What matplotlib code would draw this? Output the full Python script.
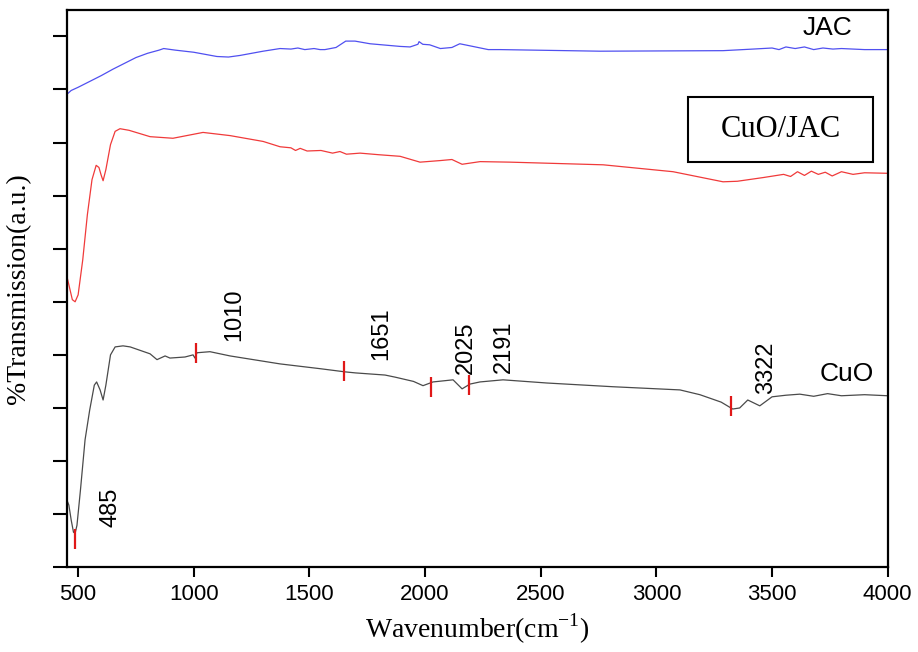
import matplotlib.pyplot as plt
from matplotlib.patches import Rectangle

plt.rcParams['font.family'] = 'Liberation Sans'

# ---- data (arbitrary offset units) ----
jac_x = [452, 470, 500, 550, 600, 650, 700, 750, 800, 850, 870, 920, 1000, 1050,
         1100, 1150, 1200, 1300, 1373, 1420, 1450, 1480, 1520, 1546, 1567, 1615,
         1657, 1697, 1762, 1892, 1935, 1969, 1974, 1990, 2020, 2066, 2116, 2150,
         2195, 2273, 2325, 2757, 3288, 3418, 3500, 3530, 3560, 3600, 3640, 3680,
         3720, 3763, 3800, 3900, 4000]
jac_y = [8.91, 8.98, 9.04, 9.15, 9.26, 9.38, 9.49, 9.60, 9.68, 9.74, 9.77, 9.74, 9.70, 9.66,
         9.62, 9.61, 9.64, 9.72, 9.77, 9.76, 9.78, 9.75, 9.77, 9.75, 9.75, 9.79,
         9.91, 9.91, 9.86, 9.81, 9.80, 9.85, 9.90, 9.85, 9.84, 9.77, 9.79, 9.86,
         9.82, 9.75, 9.75, 9.72, 9.73, 9.76, 9.78, 9.75, 9.80, 9.77, 9.80, 9.75,
         9.78, 9.76, 9.77, 9.75, 9.75]

cuojac_x = [452, 460, 475, 487, 500, 520, 540, 560, 578, 590, 600, 608, 620, 640,
            660, 681, 720, 811, 910, 1040, 1157, 1300, 1373, 1420, 1440, 1460, 1490,
            1550, 1600, 1632, 1660, 1719, 1800, 1892, 1978, 2066, 2116, 2160, 2238,
            2368, 2770, 3072, 3288, 3350, 3462, 3550, 3580, 3610, 3640, 3670, 3700,
            3730, 3760, 3800, 3850, 3900, 4000]
cuojac_y = [5.47, 5.32, 5.04, 5.00, 5.13, 5.79, 6.64, 7.30, 7.57, 7.53, 7.38, 7.28, 7.49, 7.96,
            8.21, 8.26, 8.23, 8.11, 8.08, 8.19, 8.13, 8.02, 7.92, 7.90, 7.85, 7.89, 7.84,
            7.85, 7.80, 7.83, 7.78, 7.80, 7.77, 7.74, 7.63, 7.66, 7.68, 7.59, 7.64,
            7.63, 7.58, 7.45, 7.26, 7.27, 7.34, 7.40, 7.36, 7.45, 7.38, 7.46, 7.40,
            7.44, 7.37, 7.45, 7.40, 7.43, 7.42]

cuo_x = [452, 460, 470, 480, 487, 495, 510, 530, 550, 570, 580, 595, 608, 620,
         640, 660, 694, 725, 811, 841, 876, 897, 962, 997, 1005, 1014, 1070, 1157,
         1373, 1546, 1600, 1654, 1700, 1827, 1871, 1950, 1991, 2034, 2121, 2160,
         2194, 2237, 2337, 2527, 2812, 3102, 3188, 3280, 3330, 3360, 3395, 3447,
         3500, 3560, 3620, 3680, 3740, 3800, 3900, 4000]
cuo_y = [1.26, 1.17, 0.89, 0.66, 0.64, 0.79, 1.45, 2.40, 2.96, 3.43, 3.49, 3.34, 3.15, 3.43,
         4.00, 4.15, 4.17, 4.15, 4.02, 3.91, 3.98, 3.94, 3.96, 4.00, 3.94, 4.04, 4.06, 3.98,
         3.83, 3.74, 3.71, 3.68, 3.66, 3.62, 3.58, 3.50, 3.42, 3.49, 3.53, 3.36,
         3.45, 3.49, 3.53, 3.47, 3.40, 3.34, 3.25, 3.11, 2.98, 3.00, 3.15, 3.04,
         3.21, 3.24, 3.26, 3.22, 3.27, 3.23, 3.25, 3.23]

peak_pos = [485, 1010, 1651, 2025, 2191, 3322]
peak_y = [0.53, 4.04, 3.69, 3.40, 3.44, 3.03]
peak_labels = ['485', '1010', '1651', '2025', '2191', '3322']
label_x = [638, 1174, 1809, 2177, 2341, 3473]
label_y = [1.13, 4.75, 4.40, 4.13, 4.15, 3.75]

fig = plt.figure(figsize=(9.18, 6.52), dpi=100)
ax = fig.add_axes([0.073, 0.130, 0.894, 0.855])

ax.plot(jac_x, jac_y, color='#5050f0', lw=0.9)
ax.plot(cuojac_x, cuojac_y, color='#f03a3a', lw=0.9)
ax.plot(cuo_x, cuo_y, color='#4a4a4a', lw=0.9)

# red peak marks on the CuO curve
ax.vlines(peak_pos, [v - 0.19 for v in peak_y], [v + 0.19 for v in peak_y],
          color='#e01818', lw=1.6, zorder=3)
for lx, ly, t in zip(label_x, label_y, peak_labels):
    ax.text(lx, ly, t, rotation=90, ha='center', va='center', fontsize=17)

ax.text(3741, 10.15, 'JAC', ha='center', va='center', fontsize=19)
ax.text(3823, 3.64, 'CuO', ha='center', va='center', fontsize=19)

# legend-like box for CuO/JAC
ax.add_patch(Rectangle((3136, 7.64), 800, 1.21, fill=False, ec='black', lw=1.5, zorder=4))
ax.text(3536, 8.25, 'CuO/JAC', ha='center', va='center', fontsize=22,
        family='Liberation Serif')

ax.set_xlim(452, 4000)
ax.set_ylim(0, 10.5)
ax.set_xticks(range(500, 4001, 500))
ax.set_yticks(range(0, 11))
ax.set_yticklabels([])
ax.tick_params(axis='x', direction='out', length=7, width=1.5, labelsize=16, pad=5)
ax.tick_params(axis='y', direction='out', length=10, width=1.5)
for s in ax.spines.values():
    s.set_linewidth(1.6)

ax.set_xlabel('Wavenumber(cm$^{\\mathregular{-1}}$)', family='Liberation Serif',
              fontsize=20, labelpad=5)
ax.set_ylabel('%Transmission(a.u.)', family='Liberation Serif', fontsize=20,
              labelpad=12)

fig.savefig('out.png', dpi=100)
